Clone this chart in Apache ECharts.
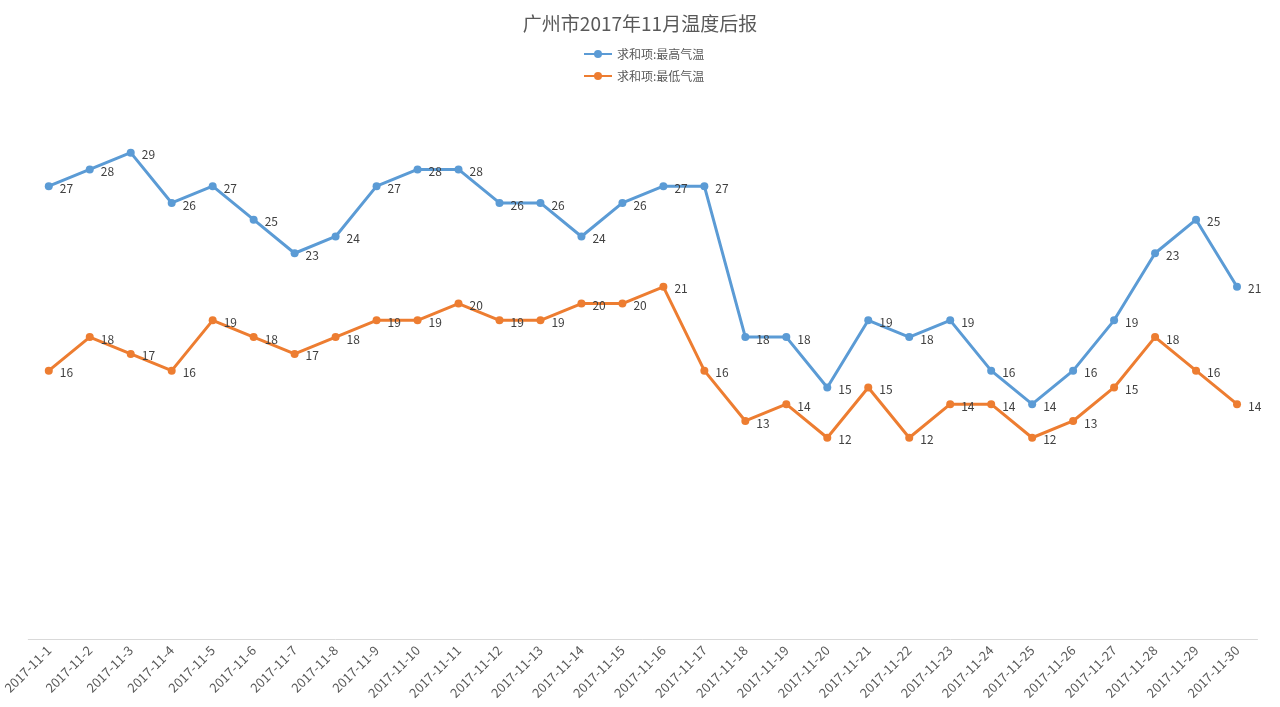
<!DOCTYPE html>
<html>
<head>
<meta charset="utf-8">
<script src="https://cdn.jsdelivr.net/npm/echarts@6/dist/echarts.min.js"></script>
<style>html,body{margin:0;padding:0;background:#fff;}#c{width:1280px;height:707px;}</style>
</head>
<body>
<div id="c"></div>
<script>
const categories = ['2017-11-1','2017-11-2','2017-11-3','2017-11-4','2017-11-5','2017-11-6','2017-11-7','2017-11-8','2017-11-9','2017-11-10','2017-11-11','2017-11-12','2017-11-13','2017-11-14','2017-11-15','2017-11-16','2017-11-17','2017-11-18','2017-11-19','2017-11-20','2017-11-21','2017-11-22','2017-11-23','2017-11-24','2017-11-25','2017-11-26','2017-11-27','2017-11-28','2017-11-29','2017-11-30'];
const highTemps = [27,28,29,26,27,25,23,24,27,28,28,26,26,24,26,27,27,18,18,15,19,18,19,16,14,16,19,23,25,21];
const lowTemps = [16,18,17,16,19,18,17,18,19,19,20,19,19,20,20,21,16,13,14,12,15,12,14,14,12,13,15,18,16,14];
const seriesNames = ['求和项:最高气温','求和项:最低气温'];

const chart = echarts.init(document.getElementById('c'));
const FONT = '"Noto Sans CJK SC", "Open Sans", sans-serif';
const labelCfg = {show:true, position:'right', distance:7, offset:[0,2], color:'#404040', fontSize:12, fontFamily:FONT};
chart.setOption({
  backgroundColor:'#fff',
  animation:false,
  title:{text:'广州市2017年11月温度后报', left:'center', top:9, textStyle:{fontSize:19, fontWeight:'normal', color:'#595959', fontFamily:FONT}},
  legend:{orient:'vertical', left:578, top:43, itemGap:10, itemWidth:28, itemHeight:10, textStyle:{fontSize:12, color:'#595959', fontFamily:FONT}, data:seriesNames},
  grid:{left:26.5, right:22.5, top:52, bottom:68},
  xAxis:{type:'category', data:categories, boundaryGap:true,
    axisLine:{lineStyle:{color:'#d9d9d9', width:1}}, axisTick:{show:false},
    axisLabel:{rotate:45, interval:0, color:'#595959', fontSize:13, fontFamily:FONT, margin:9}},
  yAxis:{type:'value', min:0, max:35, show:false, splitLine:{show:false}},
  series:[
    {name:seriesNames[0], type:'line', data:highTemps, symbol:'circle', symbolSize:8, color:'#5b9bd5', lineStyle:{width:3, color:'#5b9bd5'}, itemStyle:{color:'#5b9bd5'}, label:labelCfg},
    {name:seriesNames[1], type:'line', data:lowTemps, symbol:'circle', symbolSize:8, color:'#ed7d31', lineStyle:{width:3, color:'#ed7d31'}, itemStyle:{color:'#ed7d31'}, label:labelCfg}
  ]
});
</script>
</body>
</html>
